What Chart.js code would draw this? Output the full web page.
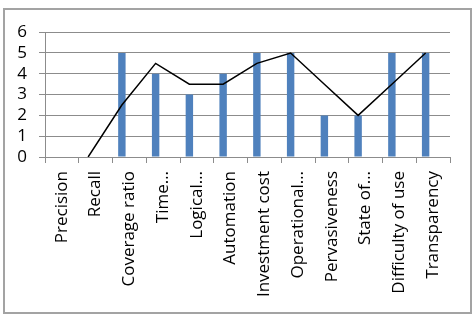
<!DOCTYPE html>
<html>
<head>
<meta charset="utf-8">
<script src="https://cdn.jsdelivr.net/npm/chart.js@4/dist/chart.umd.min.js"></script>
<style>
  body { margin: 0; background: #fff; }
  #wrap {
    position: absolute; left: 3px; top: 8px;
    width: 465px; height: 302px;
    border: 2px solid #a3a3a3;
  }
</style>
</head>
<body>
<div id="wrap"><canvas id="chart" width="465" height="302"></canvas></div>
<script>
const categories = ["Precision", "Recall", "Coverage ratio", "Time…", "Logical…", "Automation",
  "Investment cost", "Operational…", "Pervasiveness", "State of…", "Difficulty of use", "Transparency"];
const scores = [0, 0, 5, 4, 3, 4, 5, 5, 2, 2, 5, 5];
// trend line (runs through the bar positions)
const trend = [null, 0, 2.5, 4.5, 3.5, 3.5, 4.5, 5, 3.5, 2, 3.5, 5];
const yTicks = [0, 1, 2, 3, 4, 5, 6];

const font = { family: "'Open Sans', 'Liberation Sans', sans-serif", size: 17 };
const gridColor = "#8c8c8c";
// bars sit in the first slot of a 3-slot cluster, 2/9 of a category left of centre
const shift = 2 / 9;

new Chart(document.getElementById("chart"), {
  data: {
    labels: categories,
    datasets: [
      {
        type: "bar", xAxisID: "x2",
        data: scores.map((v, i) => ({ x: i, y: v })),
        backgroundColor: "#4f81bd", categoryPercentage: 0.22, barPercentage: 1, order: 2
      },
      {
        type: "line", xAxisID: "x2",
        data: trend.map((v, i) => ({ x: i, y: v })),
        borderColor: "#000", borderWidth: 1.5, pointRadius: 0, tension: 0, fill: false, order: 1
      }
    ]
  },
  options: {
    responsive: false,
    animation: false,
    layout: { padding: { left: 0, right: 20, top: 20, bottom: 0 } },
    plugins: { legend: { display: false }, tooltip: { enabled: false } },
    scales: {
      x: {
        type: "category",
        offset: true,
        grid: { drawOnChartArea: false, drawTicks: true, tickLength: 6, color: gridColor, offset: true },
        border: { color: gridColor, width: 1 },
        ticks: { color: "#000", font: font, minRotation: 90, maxRotation: 90, autoSkip: false, padding: 8 },
        afterFit: s => { s.height = 155; }
      },
      x2: {
        type: "linear", display: false,
        offset: false, grid: { offset: false },
        min: -0.5 + shift, max: categories.length - 0.5 + shift,
        afterBuildTicks: s => { s.ticks = categories.map((c, i) => ({ value: i })); }
      },
      y: {
        min: 0, max: 6,
        afterBuildTicks: s => { s.ticks = yTicks.map(v => ({ value: v })); },
        grid: { color: gridColor, tickLength: 6 },
        border: { color: gridColor, width: 1 },
        ticks: { color: "#000", font: font, padding: 12, autoSkip: false },
        afterFit: s => { s.width = 40; }
      }
    }
  }
});
</script>
</body>
</html>
